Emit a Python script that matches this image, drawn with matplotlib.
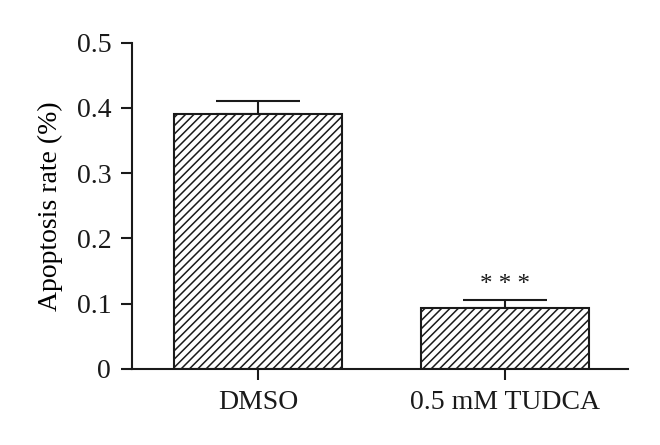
import matplotlib.pyplot as plt
import numpy as np

groups = ['DMSO', '0.5 mM TUDCA']
rates = [0.39, 0.094]
errs = [0.02, 0.011]
yticks = [0, 0.1, 0.2, 0.3, 0.4, 0.5]
ytick_labels = ['0', '0.1', '0.2', '0.3', '0.4', '0.5']

plt.rcParams['font.family'] = ['Liberation Serif', 'DejaVu Serif']
plt.rcParams['hatch.linewidth'] = 1.1

fig = plt.figure(figsize=(6.6, 4.45), dpi=100)
ax = fig.add_axes([0.2, 0.171, 0.7515, 0.733])

x = np.arange(len(groups))
ax.bar(x, rates, width=0.68, color='white', edgecolor='#1a1a1a',
       linewidth=1.5, hatch='////', zorder=2)
ax.errorbar(x, rates, yerr=[np.zeros(len(errs)), errs], fmt='none',
            ecolor='#1a1a1a', elinewidth=1.5, capsize=30, capthick=1.5, zorder=1)

ax.text(x[1], rates[1] + errs[1] + 0.006, '* * *', ha='center', va='bottom',
        fontsize=18, color='#1a1a1a')

ax.set_xlim(-0.51, 1.5)
ax.set_ylim(0, 0.5)
ax.set_xticks(x)
ax.set_xticklabels(groups, fontsize=20)
ax.set_yticks(yticks)
ax.set_yticklabels(ytick_labels, fontsize=20)
ax.set_ylabel('Apoptosis rate (%)', fontsize=20, labelpad=10)

for s in ['top', 'right']:
    ax.spines[s].set_visible(False)
for s in ['left', 'bottom']:
    ax.spines[s].set_linewidth(1.5)
    ax.spines[s].set_color('#1a1a1a')
ax.tick_params(axis='both', direction='out', length=8, width=1.5,
               color='#1a1a1a', labelcolor='#1a1a1a', pad=7)

fig.savefig('out.png', dpi=100)
